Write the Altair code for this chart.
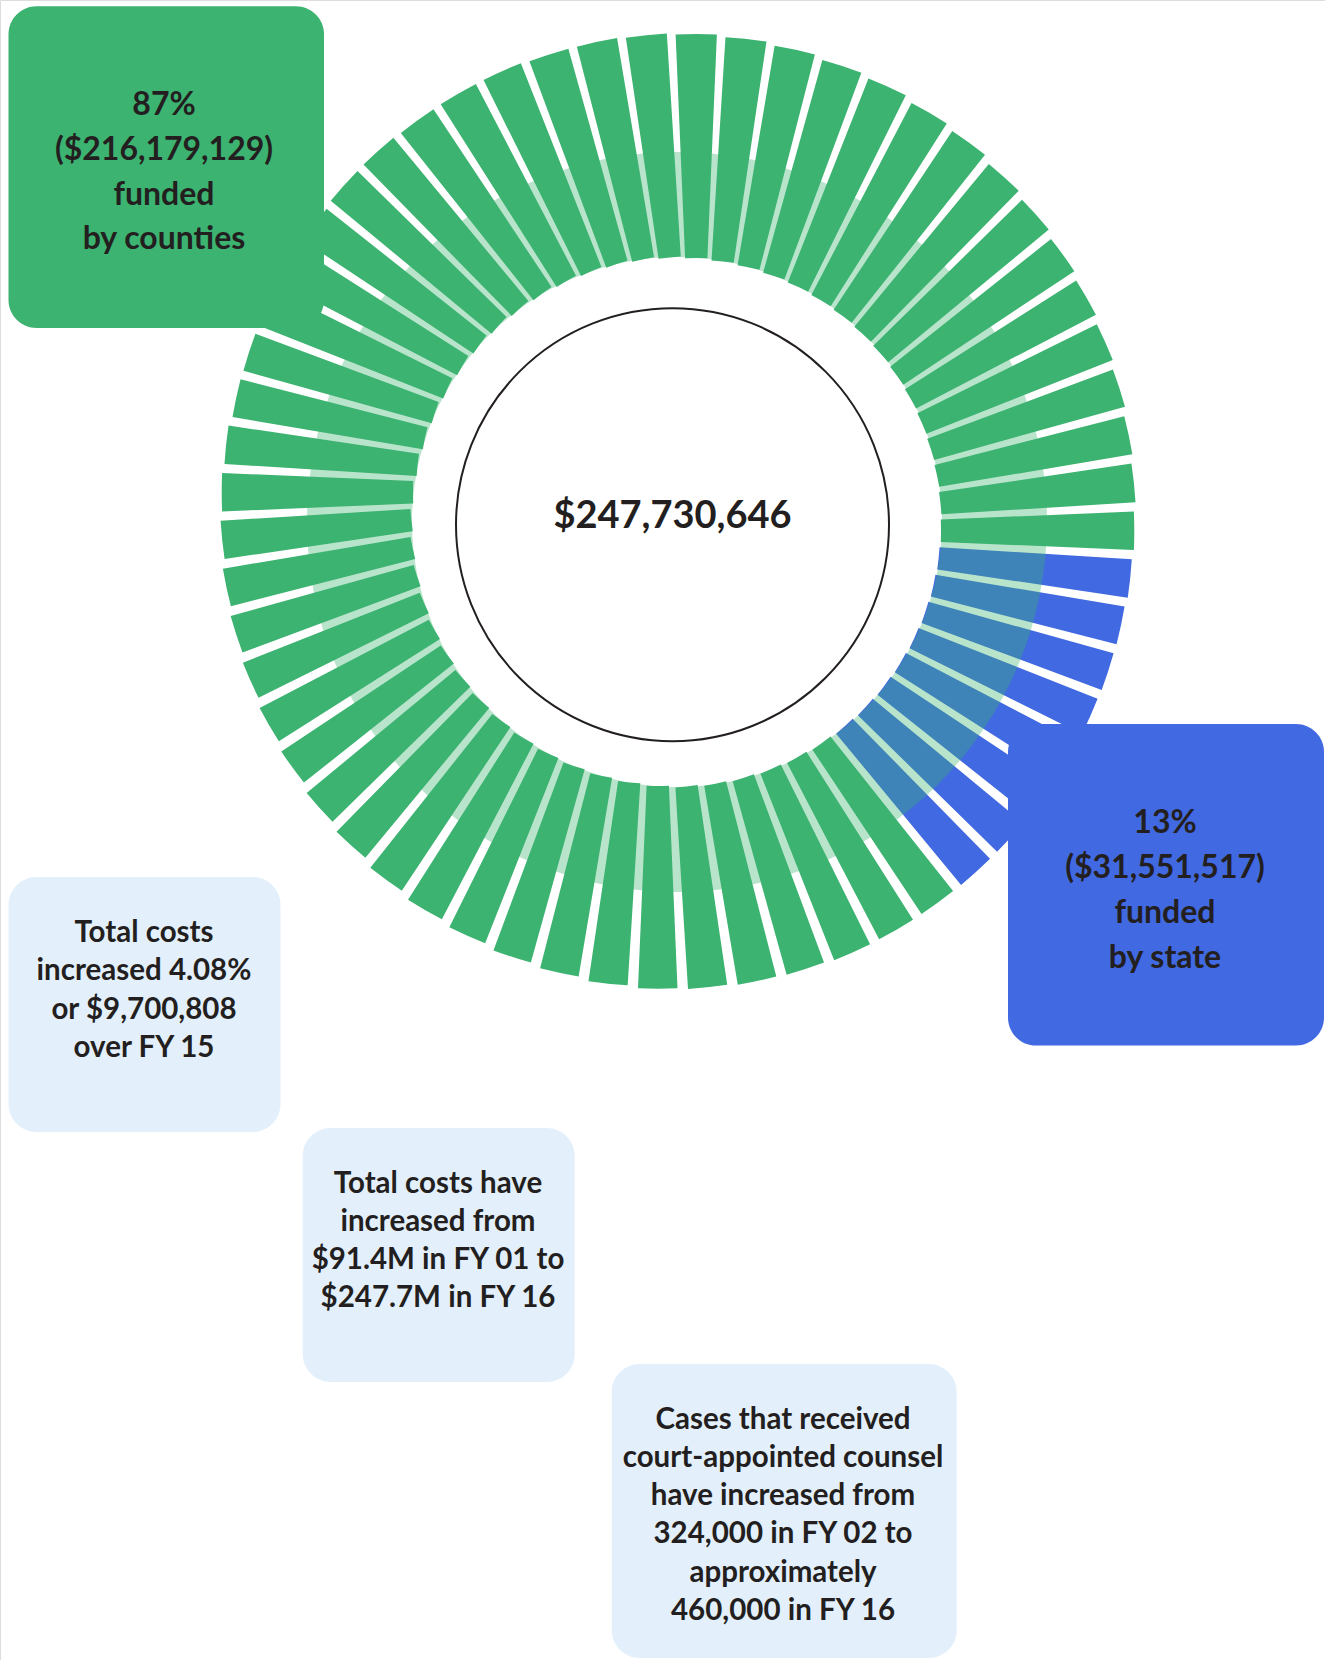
import math
import altair as alt
import pandas as pd

# ---------------- data ----------------
bar_lengths = [226, 225.6, 224.5, 222.7, 221.4, 218.5, 216.6, 213.2, 210.4, 207.3,
               204.9, 202.4, 200.1, 197.9, 196.5, 195.3, 194.6, 193.8, 194.2, 194.5,
               195, 195.9, 196.9, 198.2, 199.3, 200.8, 202.6, 202.9, 203.7, 203.9,
               204.7, 204.3, 203.4, 202.6, 201.3, 200.1, 198.4, 196.5, 195, 193.4,
               192.9, 192.2, 192, 192.3, 192.2, 193.3, 194.5, 195, 197.5, 200,
               202.5, 206.1, 210.7, 213.8, 215.5, 218.3, 221, 222.2, 224.2, 225.3]
bar_funder = (["counties"] * 16) + (["state"] * 8) + (["counties"] * 36)
funders = ["counties", "state"]

total_label = "$247,730,646"
county_label = ["87%", "($216,179,129)", "funded", "by counties"]
state_label = ["13%", "($31,551,517)", "funded", "by state"]
note1 = ["Total costs", "increased 4.08%", "or $9,700,808", "over FY 15"]
note2 = ["Total costs have", "increased from", "$91.4M in FY 01 to", "$247.7M in FY 16"]
note3 = ["Cases that received", "court-appointed counsel", "have increased from",
         "324,000 in FY 02 to", "approximately", "460,000 in FY 16"]

# ---------------- style / layout ----------------
GREEN = "#3cb371"
BLUE = "#4169e1"
LIGHT = "#e3f0fc"
INK = "#231f20"
FONT = "Lato"
N = len(bar_lengths)
CX, CY = 677, 522
R0 = 264
PIN = 19.25      # tangential (pinwheel) offset of each bar
PIN_VAR = 10.5   # its variation around the ring
HALF = 0.404

bars_df = pd.DataFrame({"slot": list(range(N)), "length": bar_lengths, "funder": bar_funder})
one = pd.DataFrame({"k": [0]})

bars = alt.Chart(bars_df).transform_calculate(
    a0=f"datum.slot - {HALF}",
    a1=f"datum.slot + {HALF}",
    ang=f"datum.slot * 2 * PI / {N}",
).transform_calculate(
    off=f"{PIN} - {PIN_VAR} * sin(datum.ang)",
).transform_calculate(
    px=f"{CX} + datum.off * cos(datum.ang)",
    py=f"{CY} + datum.off * sin(datum.ang)",
).mark_arc(radius2=R0).encode(
    theta=alt.Theta("a0:Q", stack=None,
                    scale=alt.Scale(domain=[0, N], range=[0, 2 * math.pi])),
    theta2="a1:Q",
    radius=alt.Radius("length:Q",
                      scale=alt.Scale(type="linear", domain=[0, 250], range=[R0 - 2, R0 + 248])),
    x=alt.X("px:Q", scale=None, axis=None),
    y=alt.Y("py:Q", scale=None, axis=None),
    color=alt.Color("funder:N", scale=alt.Scale(domain=funders, range=[GREEN, BLUE]), legend=None),
)

overlay = alt.Chart(one).mark_arc(
    radius=370, radius2=R0 + 1, theta=0, theta2=2 * math.pi, color=GREEN, opacity=0.36
).encode(x=alt.value(CX), y=alt.value(CY))

circle = alt.Chart(one).mark_arc(
    radius=216.5, theta=0, theta2=2 * math.pi, fill="white", stroke=INK, strokeWidth=2
).encode(x=alt.value(672.5), y=alt.value(524.7))

center_text = alt.Chart(one).mark_text(
    font=FONT, fontWeight="bold", fontSize=38, color=INK, align="center", baseline="middle"
).encode(x=alt.value(672.5), y=alt.value(517), text=alt.value(total_label))


def box(x, x2, y, y2, fill):
    return alt.Chart(one).mark_rect(cornerRadius=28, color=fill).encode(
        x=alt.value(x), x2=alt.value(x2), y=alt.value(y), y2=alt.value(y2))


def label(lines, x, y, size, lh):
    return alt.Chart(one).mark_text(
        font=FONT, fontWeight="bold", fontSize=size, color=INK, align="center",
        baseline="middle", lineHeight=lh
    ).encode(x=alt.value(x), y=alt.value(y), text=alt.value(lines))


layers = [
    bars, overlay, circle, center_text,
    box(8.5, 324, 6.3, 328, GREEN),
    box(1008, 1324, 724, 1045.6, BLUE),
    box(8.5, 280.5, 877, 1132, LIGHT),
    box(302.7, 574.7, 1128, 1382, LIGHT),
    box(611.7, 956.7, 1364, 1658, LIGHT),
    label(county_label, 164, 105.2, 32, 44.7),
    label(state_label, 1165, 822.5, 32, 45),
    label(note1, 144, 932.5, 29.5, 38.5),
    label(note2, 438, 1183.5, 29.5, 38.3),
    label(note3, 783, 1419.5, 29.5, 38.3),
]

chart = alt.layer(*layers).properties(
    width=1325, height=1660, padding=0, autosize="none"
).configure_view(stroke=None).configure(background="white")

chart.save("out.html", embed_options={"renderer": "svg", "actions": False})
